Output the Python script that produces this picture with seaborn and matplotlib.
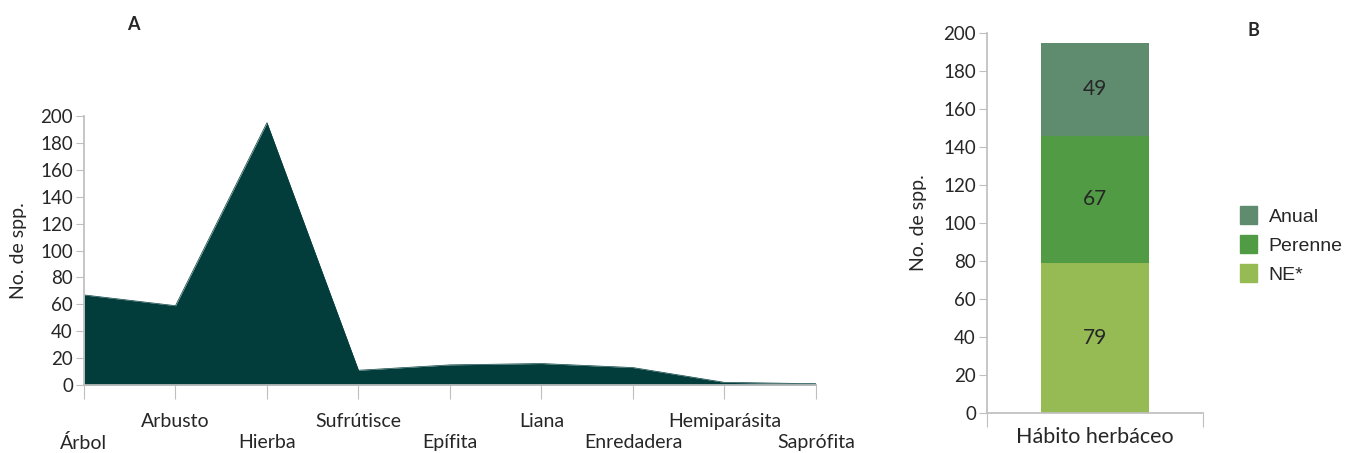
import matplotlib
matplotlib.use("Agg")
import matplotlib.pyplot as plt
import seaborn as sns
import pandas as pd
import numpy as np
from matplotlib.patches import Patch

# Panel A: growth forms
habits = ["Árbol", "Arbusto", "Hierba", "Sufrútisce", "Epífita",
          "Liana", "Enredadera", "Hemiparásita", "Saprófita"]
n_spp = [67, 59, 195, 11, 15, 16, 13, 2, 1]

# Panel B: herbaceous habit breakdown (bottom to top)
herb_groups = ["NE*", "Perenne", "Anual"]
herb_counts = [79, 67, 49]
herb_colors = ["#96BB55", "#529B45", "#5F8C6F"]

sns.set_theme(style="white")
plt.rcParams["font.family"] = ["Lato", "DejaVu Sans"]

GRAY = "#bfbfbf"
DARK = "#023D3C"

fig = plt.figure(figsize=(13.46, 4.53), dpi=100)
axA = fig.add_axes([0.0624, 0.150, 0.5438, 0.594])
axB = fig.add_axes([0.7333, 0.0883, 0.1605, 0.8387])

# ---- Panel A
df = pd.DataFrame({"x": np.arange(len(habits)), "y": n_spp})
sns.lineplot(data=df, x="x", y="y", ax=axA, color=DARK, lw=0.5)
axA.fill_between(df["x"], 0, df["y"], color=DARK, lw=0)
axA.set_xlim(0, len(habits) - 1)
axA.set_ylim(0, 200)
axA.set_yticks(range(0, 201, 20))
# staggered labels: even categories on the lower row (major), odd on the upper row (minor)
axA.set_xticks(df["x"][::2])
axA.set_xticklabels(habits[::2], fontsize=14)
axA.set_xticks(df["x"][1::2], minor=True)
axA.set_xticklabels(habits[1::2], minor=True, fontsize=14)
axA.tick_params(axis="x", which="major", length=10, width=0.8, color=GRAY, direction="out", pad=25, bottom=True)
axA.tick_params(axis="x", which="minor", length=10, width=0.8, color=GRAY, direction="out", pad=10, bottom=True)
axA.tick_params(axis="y", length=6, width=0.8, color=GRAY, direction="out", pad=2, left=True, labelsize=13.5)
axA.set_xlabel("")
axA.set_ylabel("No. de spp.", fontsize=14)
axA.yaxis.set_label_coords(-0.078, 0.5)
for s in ["top", "right"]:
    axA.spines[s].set_visible(False)
for s in ["left", "bottom"]:
    axA.spines[s].set_color(GRAY)
fig.text(133 / 1346, 1 - 25 / 453, "A", fontsize=13, fontweight="bold", ha="center", va="center")

# ---- Panel B: stacked bar drawn as overlapping cumulative bars
cum = np.cumsum(herb_counts)
for total, col in zip(cum[::-1], herb_colors[::-1]):
    sns.barplot(x=["Hábito herbáceo"], y=[total], color=col, width=0.5,
                ax=axB, saturation=1, edgecolor="none")
bottoms = cum - np.array(herb_counts)
for b, v in zip(bottoms, herb_counts):
    axB.text(0, b + v / 2, str(v), ha="center", va="center", fontsize=15)
axB.set_xlim(-0.5, 0.5)
axB.set_ylim(0, 200)
axB.set_yticks(range(0, 201, 20))
axB.set_xticks([-0.5, 0.5])
axB.set_xticklabels(["", ""])
axB.tick_params(axis="x", length=10, width=0.8, color=GRAY, direction="out", pad=0, bottom=True)
axB.tick_params(axis="y", length=6, width=0.8, color=GRAY, direction="out", pad=2, left=True, labelsize=13.5)
axB.set_xlabel("Hábito herbáceo", fontsize=15.5, labelpad=0)
axB.set_ylabel("No. de spp.", fontsize=14)
axB.yaxis.set_label_coords(-0.278, 0.5)
for s in ["top", "right"]:
    axB.spines[s].set_visible(False)
for s in ["left", "bottom"]:
    axB.spines[s].set_color(GRAY)
fig.text(1253 / 1346, 1 - 30 / 453, "B", fontsize=13, fontweight="bold", ha="center", va="center")

handles = [Patch(color=c, label=g) for g, c in zip(herb_groups[::-1], herb_colors[::-1])]
fig.legend(handles=handles, loc="center left", bbox_to_anchor=(1222 / 1346, 1 - 245 / 453),
           frameon=False, prop={"family": "Liberation Sans", "size": 14},
           handlelength=0.9, handleheight=1.0, handletextpad=0.6, labelspacing=0.5)

fig.savefig("out.png", dpi=100)
